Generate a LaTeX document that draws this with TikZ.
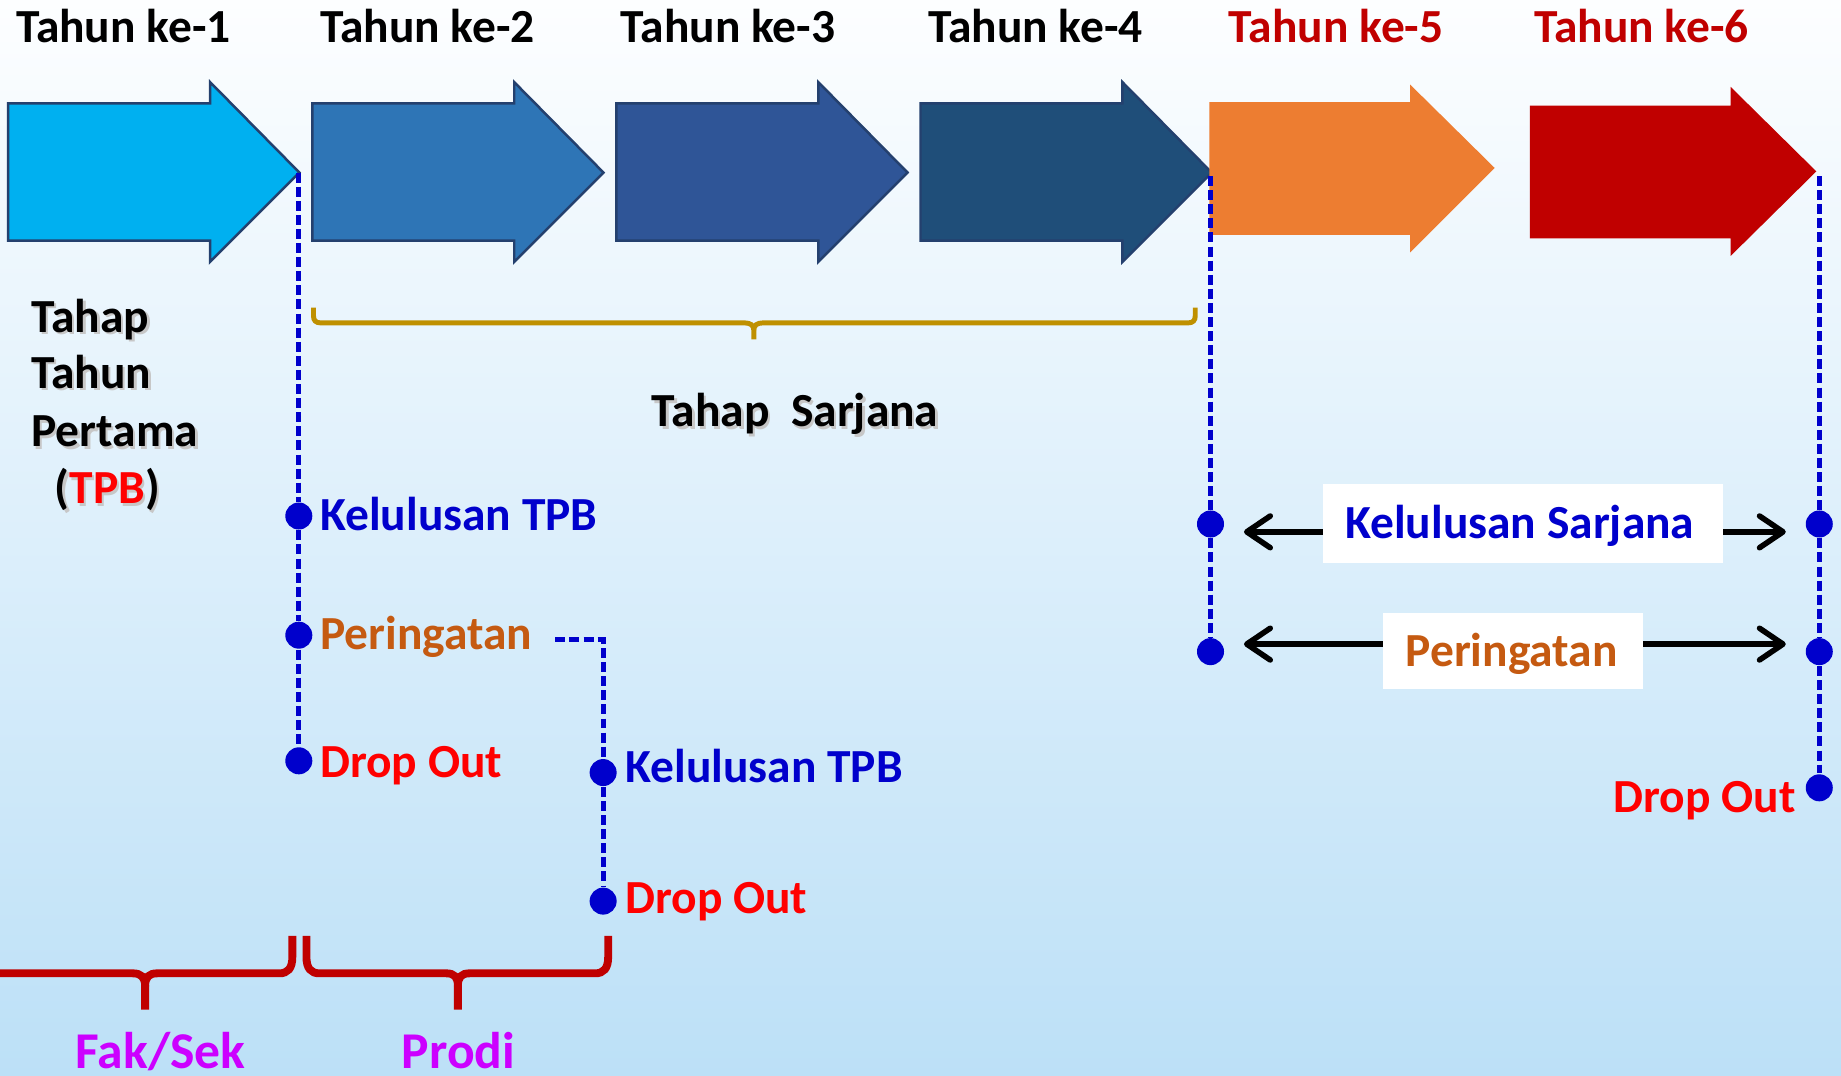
\documentclass[tikz,border=0pt]{standalone}
\usepackage{fontspec}
\setmainfont{Carlito}
\usetikzlibrary{arrows.meta}

\definecolor{yrone}{RGB}{0,176,240}
\definecolor{yrtwo}{RGB}{46,117,182}
\definecolor{yrthree}{RGB}{47,85,151}
\definecolor{yrfour}{RGB}{31,78,121}
\definecolor{yrfive}{RGB}{237,125,49}
\definecolor{yrsix}{RGB}{192,0,0}
\definecolor{yredge}{RGB}{36,64,110}
\definecolor{dotblue}{RGB}{0,0,204}
\definecolor{warnorange}{RGB}{197,90,17}
\definecolor{dropred}{RGB}{255,0,0}
\definecolor{bracegold}{RGB}{191,144,0}
\definecolor{unitpurple}{RGB}{204,0,255}
\definecolor{bgtop}{RGB}{253,254,255}
\definecolor{bgbottom}{RGB}{188,224,247}

\begin{document}
\begin{tikzpicture}[x=0.01cm, y=-0.01cm, font=\fontsize{11.5}{13.5}\selectfont\bfseries,
  lbl/.style={anchor=base west, inner sep=0pt},
  shadowlbl/.style={lbl, text=black!22},
  yrarrow/.style={draw=yredge, line width=0.6pt},
  pt/.style={circle, fill=dotblue, inner sep=0pt, minimum size=0.23cm},
  link/.style={dotblue, line width=1.2pt, dash pattern=on 0.085cm off 0.035cm},
  span/.style={black, line width=1.35pt, {Straight Barb[length=0.2cm, width=0.27cm, round]}-{Straight Barb[length=0.2cm, width=0.27cm, round]}},
  whitebox/.style={fill=white, inner sep=0pt},
  redbrace/.style={yrsix, line width=1.9pt},
  goldbrace/.style={bracegold, line width=1.2pt},
  unitlbl/.style={lbl, text=unitpurple, font=\fontsize{12.5}{14}\selectfont\bfseries}]

\useasboundingbox (0,0) rectangle (1568,916);
\clip (0,0) rectangle (1568,916);
\fill [top color=bgtop, bottom color=bgbottom] (0,0) rectangle (1568,916);

\foreach \n/\lft/\col in {1/7/yrone, 2/266/yrtwo, 3/525/yrthree, 4/784/yrfour}{
  \draw [yrarrow, fill=\col] (\lft,88) -- (\lft+172,88) -- (\lft+172,70) -- (\lft+248,147) -- (\lft+172,223) -- (\lft+172,205) -- (\lft,205) -- cycle;
}
\fill [yrfive] (1030,87) -- (1201,87) -- (1201,72) -- (1273,143) -- (1201,215) -- (1201,200) -- (1030,200) -- cycle;
\fill [yrsix] (1303,90) -- (1474,90) -- (1474,74) -- (1547,146) -- (1474,218) -- (1474,203) -- (1303,203) -- cycle;

\foreach \n/\xx/\col in {1/13/black, 2/272/black, 3/528/black, 4/790/black, 5/1046/yrsix, 6/1306/yrsix}{
  \draw (\xx,36) node (yr\n) [lbl, text=\col] {Tahun ke-\n};
}

\draw (28,285) node (tpbshadowa) [shadowlbl] {Tahap};
\draw (28,333) node (tpbshadowb) [shadowlbl] {Tahun};
\draw (28,382.5) node (tpbshadowc) [shadowlbl] {Pertama};
\draw (48,431) node (tpbshadowd) [shadowlbl] {(TPB)};
\draw (26,283) node (tpba) [lbl] {Tahap};
\draw (26,331) node (tpbb) [lbl] {Tahun};
\draw (26,380.5) node (tpbc) [lbl] {Pertama};
\draw (46,429) node (tpbd) [lbl] {(\textcolor{dropred}{TPB})};

\draw [goldbrace] (267,262) -- (267,269) .. controls (267,273) and (269,275) .. (273,275) -- (634,275) .. controls (639,275) and (642,277) .. (642,281) -- (642,289);
\draw [goldbrace] (642,281) .. controls (642,277) and (645,275) .. (650,275) -- (1012,275) .. controls (1016,275) and (1018,273) .. (1018,269) -- (1018,262);
\draw (556.5,365.5) node (sarjanashadow) [shadowlbl] {Tahap\ \ Sarjana};
\draw (554.5,363.5) node (sarjana) [lbl] {Tahap\ \ Sarjana};

\coordinate (tip1) at (254.5,147);
\draw (254.5,439.5) node (grad1) [pt] {};
\draw (254.5,541) node (warn1) [pt] {};
\draw (254.5,648) node (drop1) [pt] {};
\draw [link] (tip1) -- (grad1) -- (warn1) -- (drop1);
\draw (272,451.5) node (gradlbl1) [lbl, text=dotblue] {Kelulusan TPB};
\draw (272,553) node (warnlbl1) [lbl, text=warnorange] {Peringatan};
\draw (272,662) node (droplbl1) [lbl, text=dropred] {Drop Out};

\coordinate (bendstart) at (473,544.6);
\coordinate (bend) at (513.7,544.6);
\draw (513.7,658) node (grad2) [pt] {};
\draw (513.7,767.5) node (drop2) [pt] {};
\draw [link] (bendstart) -- (bend) -- (grad2) -- (drop2);
\draw (532,666.7) node (gradlbl2) [lbl, text=dotblue] {Kelulusan TPB};
\draw (532,778) node (droplbl2) [lbl, text=dropred] {Drop Out};

\coordinate (tip4) at (1031,150);
\draw (1031,446.3) node (gradL) [pt] {};
\draw (1031,555) node (warnL) [pt] {};
\draw [link] (tip4) -- (gradL) -- (warnL);

\coordinate (tip6) at (1549.5,150);
\draw (1549.5,446.3) node (gradR) [pt] {};
\draw (1549.5,555) node (warnR) [pt] {};
\draw (1549.5,671) node (dropR) [pt] {};
\draw [link] (tip6) -- (gradR) -- (warnR) -- (dropR);

\coordinate (spangL) at (1059.5,453);
\coordinate (spangR) at (1521,453);
\draw [span] (spangL) -- (spangR);
\draw (1297.3,445.9) node (gradbox) [whitebox, minimum width=3.41cm, minimum height=0.68cm] {};
\draw (1145,458.4) node (gradlblS) [lbl, text=dotblue] {Kelulusan Sarjana};

\coordinate (spanwL) at (1059.5,548.6);
\coordinate (spanwR) at (1521,548.6);
\draw [span] (spanwL) -- (spanwR);
\draw (1288.4,554.3) node (warnbox) [whitebox, minimum width=2.21cm, minimum height=0.65cm] {};
\draw (1196.5,567.8) node (warnlblS) [lbl, text=warnorange] {Peringatan};

\draw (1373.7,692.2) node (droplblS) [lbl, text=dropred] {Drop Out};

\draw [redbrace] (-10,829) -- (113,829) .. controls (120,829) and (123.6,832) .. (123.6,840) -- (123.6,860);
\draw [redbrace] (123.6,840) .. controls (123.6,832) and (127,829) .. (134,829) -- (238,829) .. controls (245,829) and (249,825) .. (249,815) -- (249,797);
\draw [redbrace] (261,797) -- (261,815) .. controls (261,825) and (265,829) .. (272,829) -- (380,829) .. controls (387,829) and (390,832) .. (390,840) -- (390,860);
\draw [redbrace] (390,840) .. controls (390,832) and (393,829) .. (400,829) -- (507,829) .. controls (514,829) and (518,825) .. (518,815) -- (518,797);
\draw (63.6,910) node (fak) [unitlbl] {Fak/Sek};
\draw (341.6,910) node (prodi) [unitlbl] {Prodi};

\end{tikzpicture}
\end{document}
